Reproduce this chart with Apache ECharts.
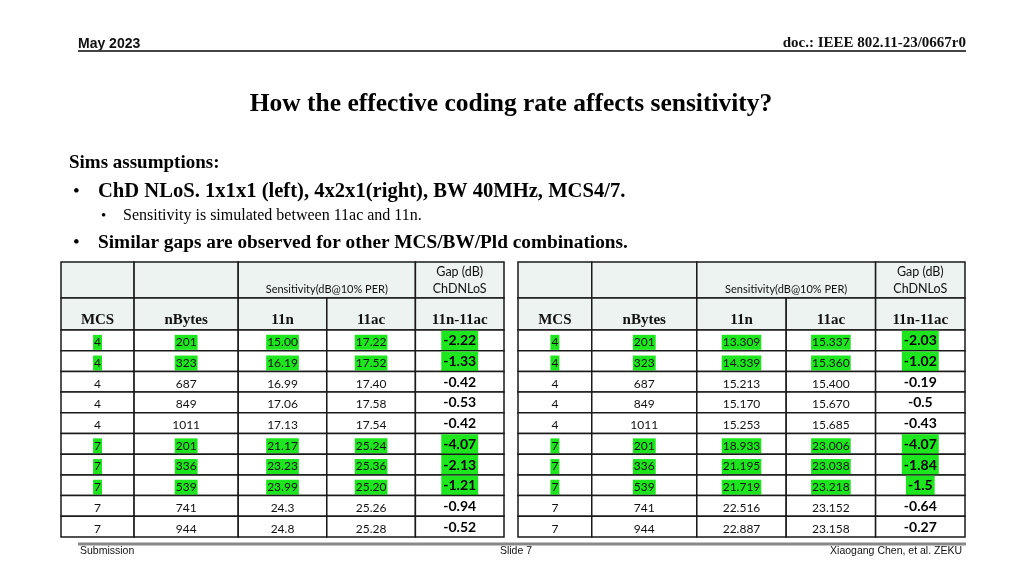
<!DOCTYPE html>
<html>
<head>
<meta charset="utf-8">
<script src="https://cdn.jsdelivr.net/npm/echarts@6/dist/echarts.min.js"></script>
<style>
html,body{margin:0;padding:0;background:#fff;}
#chart{width:1024px;height:576px;}
</style>
</head>
<body>
<div id="chart"></div>
<script>
// ---------- DATA ----------
var columnHeaders = ['MCS', 'nBytes', '11n', '11ac', '11n-11ac'];
var groupHeader = 'Sensitivity(dB@10% PER)';
var gapHeader = 'Gap (dB)\nChDNLoS';

var mcs = [4, 4, 4, 4, 4, 7, 7, 7, 7, 7];
var nBytes = [201, 323, 687, 849, 1011, 201, 336, 539, 741, 944];
var highlightRows = [0, 1, 5, 6, 7];

// left table: 1x1x1
var sens11nLeft = ['15.00', '16.19', '16.99', '17.06', '17.13', '21.17', '23.23', '23.99', '24.3', '24.8'];
var sens11acLeft = ['17.22', '17.52', '17.40', '17.58', '17.54', '25.24', '25.36', '25.20', '25.26', '25.28'];
var gapLeft = ['-2.22', '-1.33', '-0.42', '-0.53', '-0.42', '-4.07', '-2.13', '-1.21', '-0.94', '-0.52'];

// right table: 4x2x1
var sens11nRight = ['13.309', '14.339', '15.213', '15.170', '15.253', '18.933', '21.195', '21.719', '22.516', '22.887'];
var sens11acRight = ['15.337', '15.360', '15.400', '15.670', '15.685', '23.006', '23.038', '23.218', '23.152', '23.158'];
var gapRight = ['-2.03', '-1.02', '-0.19', '-0.5', '-0.43', '-4.07', '-1.84', '-1.5', '-0.64', '-0.27'];

// ---------- LAYOUT (axis units) ----------
var colEdges = [0, 0.165, 0.40, 0.60, 0.80, 1.0];
var headRow1 = 36, headRow2 = 68, tableEnd = 275;
var nRows = mcs.length;
var rowH = (tableEnd - headRow2) / nRows;

var GREEN = '#1ee61e';
var HEAD_BG = '#edf3f0';
var LINE = '#1a1a1a';

function buildCells(s11n, s11ac, gap) {
  var cells = [];
  cells.push({x0: colEdges[0], x1: colEdges[1], y0: 0, y1: headRow1, text: '', kind: 'empty'});
  cells.push({x0: colEdges[1], x1: colEdges[2], y0: 0, y1: headRow1, text: '', kind: 'empty'});
  cells.push({x0: colEdges[2], x1: colEdges[4], y0: 0, y1: headRow1, text: groupHeader, kind: 'group'});
  cells.push({x0: colEdges[4], x1: colEdges[5], y0: 0, y1: headRow1, text: gapHeader, kind: 'gaphead'});
  for (var c = 0; c < 5; c++) {
    cells.push({x0: colEdges[c], x1: colEdges[c + 1], y0: headRow1, y1: headRow2, text: columnHeaders[c], kind: 'head'});
  }
  for (var r = 0; r < nRows; r++) {
    var vals = [String(mcs[r]), String(nBytes[r]), s11n[r], s11ac[r], gap[r]];
    var hl = highlightRows.indexOf(r) >= 0;
    for (var k = 0; k < 5; k++) {
      cells.push({
        x0: colEdges[k], x1: colEdges[k + 1],
        y0: headRow2 + r * rowH, y1: headRow2 + (r + 1) * rowH,
        text: vals[k], kind: k === 4 ? 'gap' : 'data', hl: hl
      });
    }
  }
  return cells;
}

var leftCells = buildCells(sens11nLeft, sens11acLeft, gapLeft);
var rightCells = buildCells(sens11nRight, sens11acRight, gapRight);

function makeRender(cells) {
  return function (params, api) {
    var cell = cells[params.dataIndex];
    var p0 = api.coord([cell.x0, cell.y0]);
    var p1 = api.coord([cell.x1, cell.y1]);
    var x = p0[0], y = p0[1], w = p1[0] - p0[0], h = p1[1] - p0[1];
    var cx = x + w / 2, cy = y + h / 2;
    var isHead = cell.kind === 'empty' || cell.kind === 'group' || cell.kind === 'gaphead' || cell.kind === 'head';
    var children = [{
      type: 'rect',
      shape: {x: x, y: y, width: w, height: h},
      style: {fill: isHead ? HEAD_BG : '#ffffff', stroke: LINE, lineWidth: 1.5}
    }];
    var ts = null;
    if (cell.kind === 'group') {
      ts = {text: cell.text, x: cx, y: y + h - 3, align: 'center', verticalAlign: 'bottom',
            font: '11px Lato', fill: '#111'};
    } else if (cell.kind === 'gaphead') {
      ts = {text: cell.text, x: cx, y: cy, align: 'center', verticalAlign: 'middle',
            font: '12.5px Lato', lineHeight: 17, fill: '#111'};
    } else if (cell.kind === 'head') {
      ts = {text: cell.text, x: cx, y: y + h - 2, align: 'center', verticalAlign: 'bottom',
            font: 'bold 15px "Liberation Serif"', fill: '#111'};
    } else if (cell.kind === 'data') {
      ts = {text: cell.text, x: cx, y: cy + 2, align: 'center', verticalAlign: 'middle',
            font: '12px Lato', lineHeight: 11, fill: '#111'};
      if (cell.hl) { ts.backgroundColor = GREEN; ts.padding = [2, 1, 2, 1]; }
    } else if (cell.kind === 'gap') {
      ts = {text: cell.text, x: cx, y: cy + 0.5, align: 'center', verticalAlign: 'middle',
            font: 'bold 14px Lato', lineHeight: 14, fill: '#000'};
      if (cell.hl) { ts.backgroundColor = GREEN; ts.padding = [4, 2, 2, 2]; }
    }
    if (ts) children.push({type: 'text', style: ts});
    return {type: 'group', children: children};
  };
}

var chart = echarts.init(document.getElementById('chart'), null, {renderer: 'canvas'});

var footFont = '10.5px "Liberation Sans Narrow", "Liberation Sans"';
var option = {
  animation: false,
  backgroundColor: '#ffffff',
  grid: [
    {left: 61, top: 262, width: 443, height: 275},
    {left: 518, top: 262, width: 447, height: 275}
  ],
  xAxis: [
    {type: 'value', gridIndex: 0, min: 0, max: 1, show: false},
    {type: 'value', gridIndex: 1, min: 0, max: 1, show: false}
  ],
  yAxis: [
    {type: 'value', gridIndex: 0, min: 0, max: tableEnd, inverse: true, show: false},
    {type: 'value', gridIndex: 1, min: 0, max: tableEnd, inverse: true, show: false}
  ],
  series: [
    {type: 'custom', xAxisIndex: 0, yAxisIndex: 0, renderItem: makeRender(leftCells),
     data: leftCells.map(function (c, i) { return [c.x0, c.y0, i]; }), silent: true, clip: false},
    {type: 'custom', xAxisIndex: 1, yAxisIndex: 1, renderItem: makeRender(rightCells),
     data: rightCells.map(function (c, i) { return [c.x0, c.y0, i]; }), silent: true, clip: false}
  ],
  graphic: [
    {type: 'text', left: 78, top: 37, style: {text: 'May 2023', font: 'bold 14px "Liberation Sans Narrow", "Liberation Sans"', fill: '#111'}},
    {type: 'text', right: 58, top: 36, style: {text: 'doc.: IEEE 802.11-23/0667r0', font: 'bold 15px "Liberation Serif"', fill: '#111'}},
    {type: 'line', shape: {x1: 78, y1: 51, x2: 966, y2: 51}, style: {stroke: '#444', lineWidth: 2}},
    {type: 'text', x: 511, y: 104, style: {text: 'How the effective coding rate affects sensitivity?', font: 'bold 25.5px "Liberation Serif"', fill: '#000', align: 'center', verticalAlign: 'middle'}},
    {type: 'text', x: 69, y: 163, style: {text: 'Sims assumptions:', font: 'bold 19px "Liberation Serif"', fill: '#000', verticalAlign: 'middle'}},
    {type: 'text', x: 73, y: 192, style: {text: '•', font: '19px "Liberation Serif"', fill: '#000', verticalAlign: 'middle'}},
    {type: 'text', x: 98, y: 192, style: {text: 'ChD NLoS. 1x1x1 (left), 4x2x1(right), BW 40MHz, MCS4/7.', font: 'bold 20.6px "Liberation Serif"', fill: '#000', verticalAlign: 'middle'}},
    {type: 'text', x: 101, y: 216, style: {text: '•', font: '15px "Liberation Serif"', fill: '#000', verticalAlign: 'middle'}},
    {type: 'text', x: 123, y: 216, style: {text: 'Sensitivity is simulated between 11ac and 11n.', font: '16px "Liberation Serif"', fill: '#000', verticalAlign: 'middle'}},
    {type: 'text', x: 73, y: 243, style: {text: '•', font: '19px "Liberation Serif"', fill: '#000', verticalAlign: 'middle'}},
    {type: 'text', x: 98, y: 243, style: {text: 'Similar gaps are observed for other MCS/BW/Pld combinations.', font: 'bold 19.3px "Liberation Serif"', fill: '#000', verticalAlign: 'middle'}},
    {type: 'line', shape: {x1: 78, y1: 544, x2: 966, y2: 544}, style: {stroke: '#888', lineWidth: 3}},
    {type: 'text', x: 80, y: 551, style: {text: 'Submission', font: footFont, fill: '#111', verticalAlign: 'middle'}},
    {type: 'text', x: 516, y: 551, style: {text: 'Slide 7', font: footFont, fill: '#111', align: 'center', verticalAlign: 'middle'}},
    {type: 'text', x: 962, y: 551, style: {text: 'Xiaogang Chen, et al. ZEKU', font: footFont, fill: '#111', align: 'right', verticalAlign: 'middle'}}
  ]
};
chart.setOption(option);
</script>
</body>
</html>
